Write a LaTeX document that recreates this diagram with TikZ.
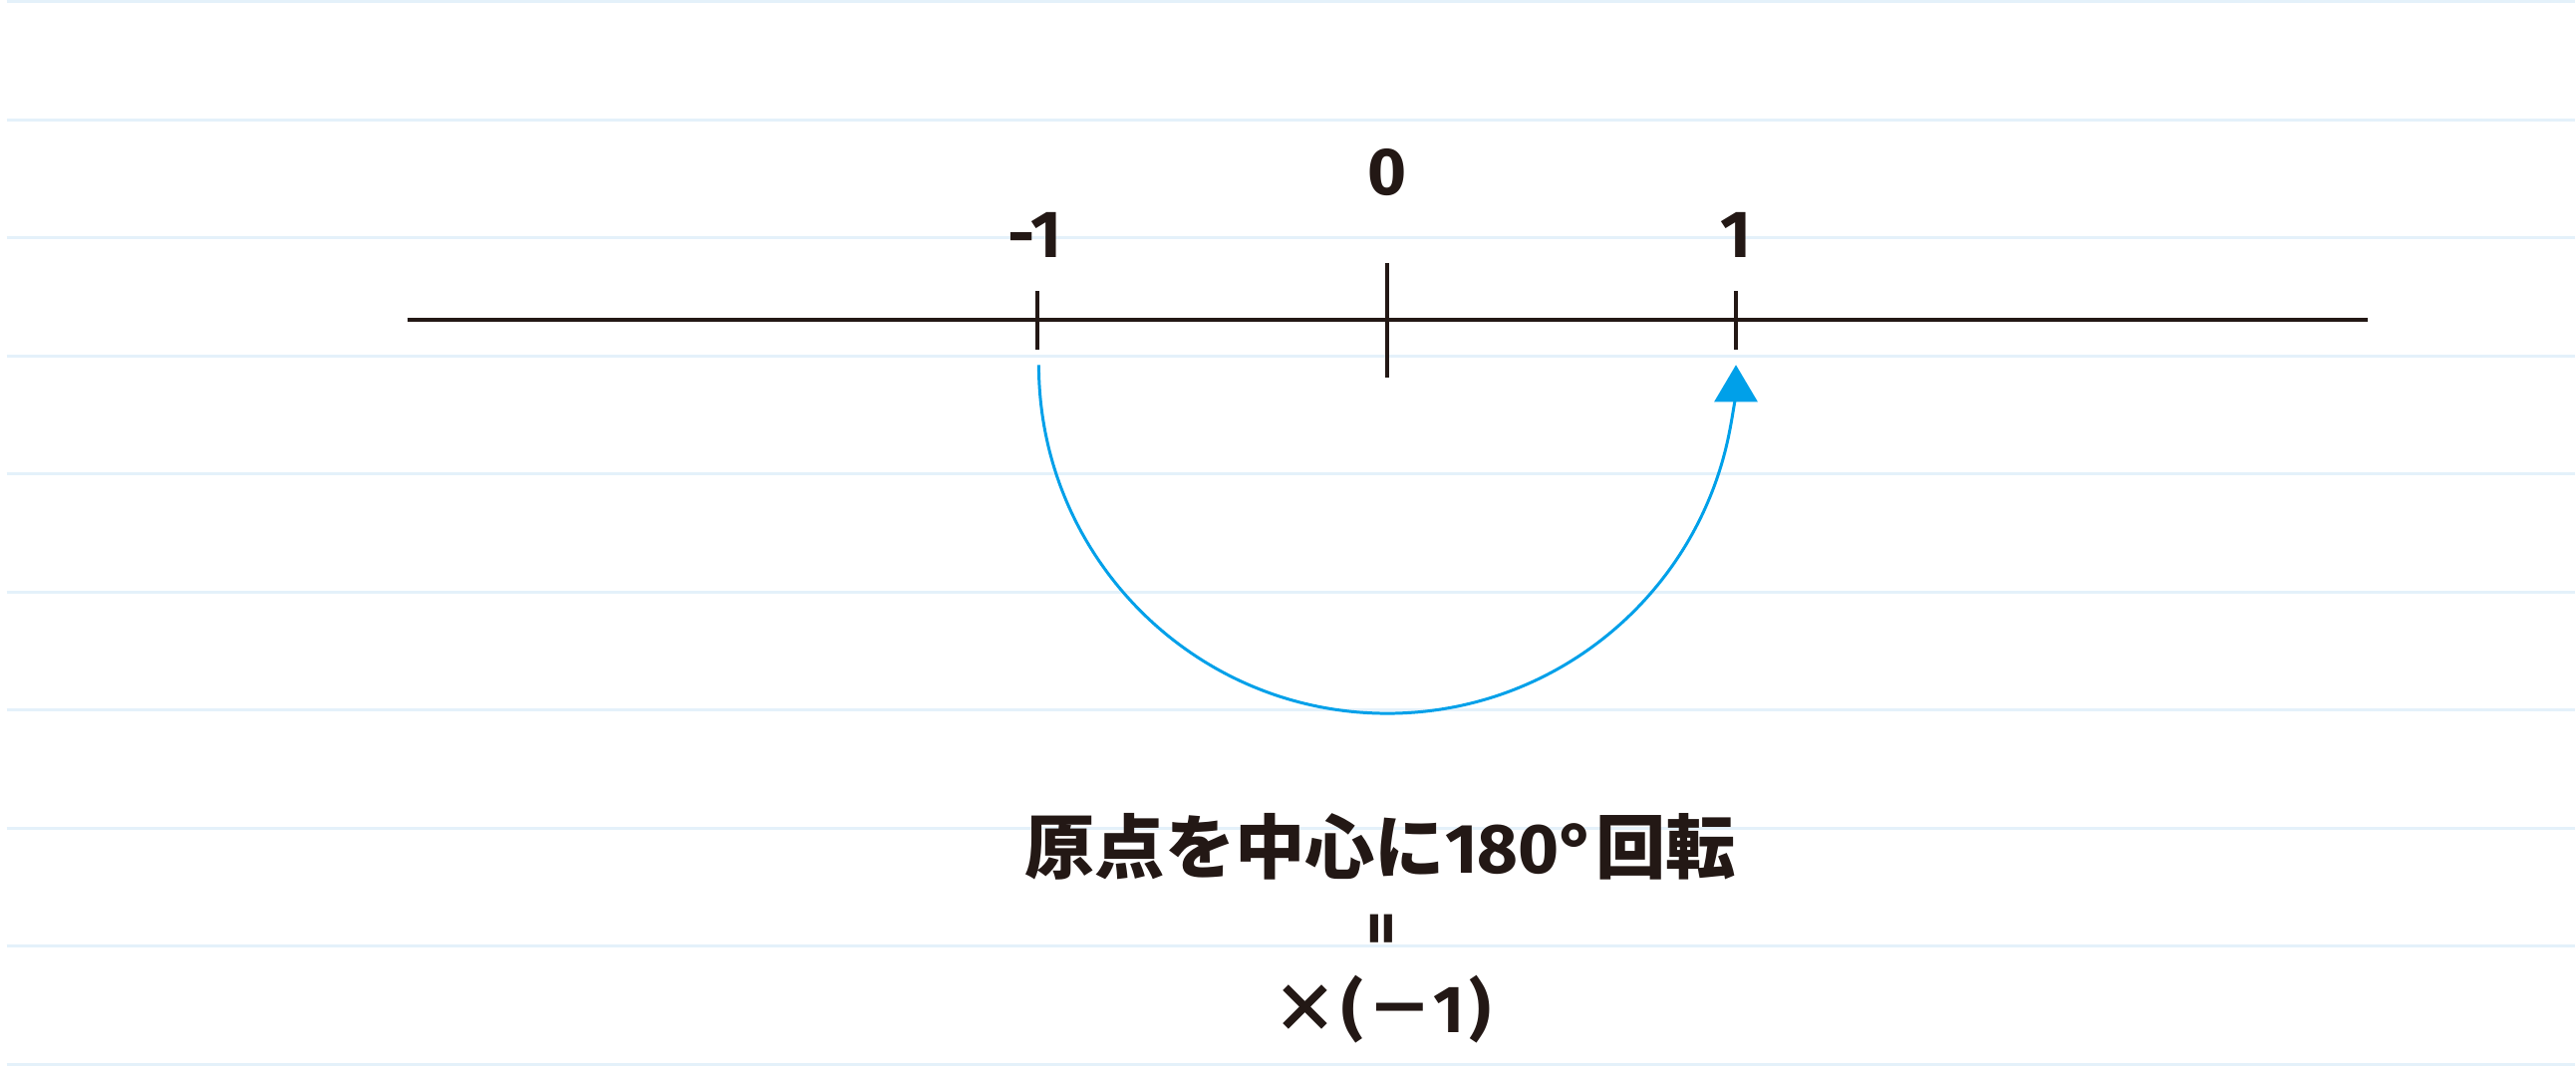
\documentclass[tikz,border=0pt]{standalone}
\usepackage{fontspec}
\setmainfont{Noto Sans CJK JP}
\newfontfamily\numfont{Fira Sans}
\usetikzlibrary{arrows.meta,calc,positioning}
\definecolor{ink}{HTML}{231815}
\definecolor{rulecol}{HTML}{E4F1FA}
\definecolor{turn}{HTML}{00A0E9}

\begin{document}
\begin{tikzpicture}[x=0.01cm, y=0.01cm]
    \tikzset{axis/.style={draw=ink, line width=1.15pt},
      tickmark/.style={draw=ink, line width=1.1pt},
      lbl/.style={text=ink, anchor=base, inner sep=0pt,
        font=\fontsize{19}{23}\selectfont\bfseries},
      turnarrow/.style={draw=turn, line width=0.85pt,
        -{Triangle[length=0.37cm, width=0.43cm]}}}
    \fill[white] (0,0) rectangle (2585,-1069);
    \foreach \k in {0,...,9}
      \draw[rulecol, line width=0.85pt] (7,-1-118.6*\k) -- (2585,-1-118.6*\k);
    % number line
    \coordinate (axL) at (409,-321);
    \coordinate (axR) at (2377,-321);
    \coordinate (m1) at (1042,-321);
    \coordinate (o) at (1393,-321);
    \coordinate (p1) at (1743,-321);
    \draw[axis] (axL) -- (axR);
    \draw[tickmark] ($(m1)+(0,29)$) -- ($(m1)+(0,-30)$);
    \draw[tickmark] ($(o)+(0,57)$) -- ($(o)+(0,-58)$);
    \draw[tickmark] ($(p1)+(0,29)$) -- ($(p1)+(0,-30)$);
    \node[lbl] (lm1) at (1039,-258) {\numfont -1};
    \node[lbl] (l0) at (1393,-195) {\numfont 0};
    \node[lbl] (l1) at (1743,-258) {\numfont 1};
    % half turn
    \coordinate (s) at ($(m1)+(1,-45)$);
    \draw[turnarrow] (s) arc[start angle=180, end angle=348, radius=350]
      arc[start angle=348, end angle=360, radius=350] coordinate (e);
    \node[lbl, font=\fontsize{20}{24}\selectfont\bfseries] (rot) at (1386,-877)
      {原点を中心に{\numfont 180°}回転};
    \node[lbl, anchor=center, rotate=90] (eq) at (1393,-932) {\numfont =};
    \node[lbl, font=\fontsize{19}{23}\selectfont\bfseries] (neg) at (1387,-1037)
      {×\hspace{0.05em}{\numfont (}\hspace{0.05em}－{\numfont 1}\hspace{0.08em}{\numfont )}};
\end{tikzpicture}
\end{document}
